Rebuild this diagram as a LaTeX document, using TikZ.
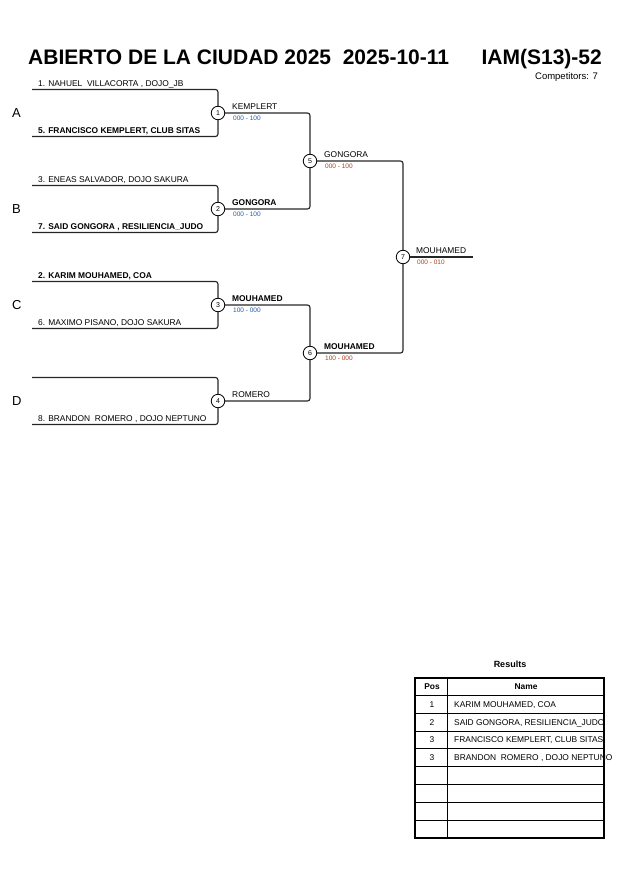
\documentclass[tikz,border=0pt]{standalone}
\usepackage{fontspec}
\setmainfont{Liberation Sans}
\definecolor{scoreblue}{RGB}{30,95,170}
\definecolor{scorered}{RGB}{175,65,25}

\begin{document}
\begin{tikzpicture}[x=1pt,y=-1pt,
  match/.style={circle,draw,line width=0.8pt,minimum size=13.5pt,inner sep=0pt,font=\fontsize{7}{7}\selectfont},
  bracket/.style={line width=1.1pt,draw=black!85,rounded corners=2.5pt},
  entry/.style={anchor=base west,inner sep=0pt,font=\fontsize{8.4}{9}\selectfont},
  heavy/.style={font=\fontsize{8.4}{9}\selectfont\bfseries},
  score/.style={anchor=base west,inner sep=0pt,font=\fontsize{6.5}{7}\selectfont},
  pool/.style={anchor=base west,inner sep=0pt,font=\fontsize{13}{14}\selectfont},
  cell/.style={anchor=base,inner sep=0pt,font=\fontsize{8.4}{9}\selectfont}]
  \useasboundingbox (0,0) rectangle (630,891);

  % header
  \node[anchor=base west,inner sep=0pt,font=\fontsize{21}{24}\selectfont\bfseries] (title) at (28,65) {ABIERTO DE LA CIUDAD 2025~~2025-10-11};
  \node[anchor=base east,inner sep=0pt,font=\fontsize{21}{24}\selectfont\bfseries] (cat) at (602,65) {IAM(S13)-52};
  \node[anchor=base east,inner sep=0pt,font=\fontsize{9.5}{10}\selectfont] (count) at (598,80) {Competitors: 7};

  % matches
  \node[match] (m1) at (218,113) {1};
  \node[match] (m2) at (218,209) {2};
  \node[match] (m3) at (218,305) {3};
  \node[match] (m4) at (218,401) {4};
  \node[match] (m5) at (310,161) {5};
  \node[match] (m6) at (310,353) {6};
  \node[match] (m7) at (403,257) {7};

  \coordinate (s1) at (32,89.5);
  \coordinate (s5) at (32,136.5);
  \coordinate (s3) at (32,185.5);
  \coordinate (s7) at (32,232.5);
  \coordinate (s2) at (32,281.5);
  \coordinate (s6) at (32,328.5);
  \coordinate (s4) at (32,377.5);
  \coordinate (s8) at (32,424.5);
  \coordinate (fin) at (473,257);

  % pools
  \node[pool] (pa) at (12,117.5) {A};
  \node[pool] (pb) at (12,213.5) {B};
  \node[pool] (pc) at (12,309.5) {C};
  \node[pool] (pd) at (12,405.5) {D};

  % competitors
  \node[entry] (c1) at (38,86) {1. NAHUEL~~VILLACORTA , DOJO\_JB};
  \node[entry,heavy] (c5) at (38,133) {5. FRANCISCO KEMPLERT, CLUB SITAS};
  \node[entry] (c3) at (38,182) {3. ENEAS SALVADOR, DOJO SAKURA};
  \node[entry,heavy] (c7) at (38,229) {7. SAID GONGORA , RESILIENCIA\_JUDO};
  \node[entry,heavy] (c2) at (38,278) {2. KARIM MOUHAMED, COA};
  \node[entry] (c6) at (38,325) {6. MAXIMO PISANO, DOJO SAKURA};
  \node[entry] (c8) at (38,421) {8. BRANDON~~ROMERO , DOJO NEPTUNO};

  % lines
  \draw[bracket] (s1) -| (m1) |- (s5);
  \draw[bracket] (s3) -| (m2) |- (s7);
  \draw[bracket] (s2) -| (m3) |- (s6);
  \draw[bracket] (s4) -| (m4) |- (s8);
  \draw[bracket] (m1) -| (m5) |- (m2);
  \draw[bracket] (m3) -| (m6) |- (m4);
  \draw[bracket] (m5) -| (m7) |- (m6);
  \draw[bracket] (m7) -- (fin);

  % winners and scores
  \node[entry] (w1) at (232,109.5) {KEMPLERT};
  \node[score,text=scoreblue] (r1) at (233,120.5) {000 - 100};
  \node[entry,heavy] (w2) at (232,205.5) {GONGORA};
  \node[score,text=scoreblue] (r2) at (233,216.5) {000 - 100};
  \node[entry,heavy] (w3) at (232,301.5) {MOUHAMED};
  \node[score,text=scoreblue] (r3) at (233,312.5) {100 - 000};
  \node[entry] (w4) at (232,397.5) {ROMERO};
  \node[entry] (w5) at (324,157.5) {GONGORA};
  \node[score,text=scorered] (r5) at (325,168.5) {000 - 100};
  \node[entry,heavy] (w6) at (324,349.5) {MOUHAMED};
  \node[score,text=scorered] (r6) at (325,360.5) {100 - 000};
  \node[entry] (w7) at (416,253.5) {MOUHAMED};
  \node[score,text=scorered] (r7) at (417,264.5) {000 - 010};

  % results
  \node[cell,font=\fontsize{9}{10}\selectfont\bfseries] (res) at (510,667.5) {Results};
  \draw[line width=1.4pt] (415,678) rectangle (604,838);
  \draw[line width=0.8pt] (447,678) -- (447,838);
  \foreach \y in {695,713,731,748,766,784,802,820}
    \draw[line width=0.8pt] (415,\y) -- (604,\y);
  \node[cell,heavy] (hpos) at (432,689) {Pos};
  \node[cell,heavy] (hname) at (526,689) {Name};
  \node[cell] (pos1) at (432,707) {1};
  \node[cell] (pos2) at (432,725) {2};
  \node[cell] (pos3) at (432,742) {3};
  \node[cell] (pos4) at (432,760) {3};
  \node[entry] (name1) at (454,707) {KARIM MOUHAMED, COA};
  \node[entry] (name2) at (454,725) {SAID GONGORA, RESILIENCIA\_JUDO};
  \node[entry] (name3) at (454,742) {FRANCISCO KEMPLERT, CLUB SITAS};
  \node[entry] (name4) at (454,760) {BRANDON~~ROMERO , DOJO NEPTUNO};
\end{tikzpicture}
\end{document}
